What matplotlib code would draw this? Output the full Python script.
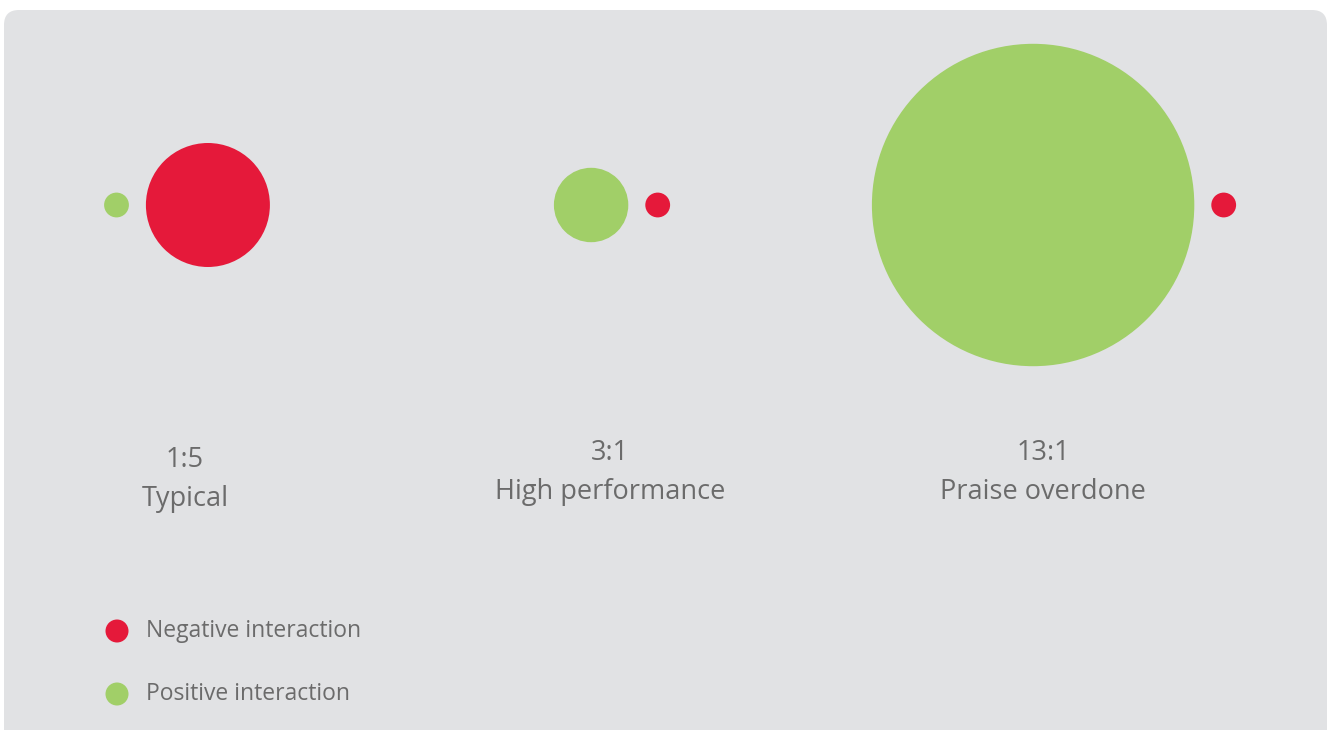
import matplotlib
matplotlib.use("Agg")
import matplotlib.pyplot as plt
from matplotlib.patches import Circle, FancyBboxPatch

# ---- data ----
ratios = ["1:5", "3:1", "13:1"]
names = ["Typical", "High performance", "Praise overdone"]
positive = [1, 3, 13]
negative = [5, 1, 1]
legend_labels = ["Negative interaction", "Positive interaction"]

# ---- style ----
RED = "#E5193A"
GREEN = "#A1CF68"
BG = "#E1E2E4"
TXT = "#6B6B6B"
FONT = "Open Sans"

W, H = 1330, 730
fig = plt.figure(figsize=(W / 100, H / 100), dpi=100)
fig.patch.set_facecolor("white")
ax = fig.add_axes([0, 0, 1, 1])
ax.set_xlim(0, W)
ax.set_ylim(H, 0)
ax.set_aspect("equal")
ax.axis("off")

ax.add_patch(FancyBboxPatch((4, 10), 1323, 760,
                            boxstyle="round,pad=0,rounding_size=15",
                            facecolor=BG, edgecolor="none"))

scale = 12.4      # px of radius per unit
gap = 17
cy = 205
group_cx = [187, 612, 1054]
label_cx = [185, 610, 1043]
ratio_base = [467, 460, 460]
name_base = [506, 499, 499]

for i in range(len(ratios)):
    rp = positive[i] * scale
    rn = negative[i] * scale
    total = 2 * rp + gap + 2 * rn
    left = group_cx[i] - total / 2
    ax.add_patch(Circle((left + rp, cy), rp, facecolor=GREEN, edgecolor="none"))
    ax.add_patch(Circle((left + 2 * rp + gap + rn, cy), rn, facecolor=RED, edgecolor="none"))
    ax.text(label_cx[i], ratio_base[i], ratios[i], ha="center", va="baseline",
            fontsize=19.5, color=TXT, family=FONT)
    ax.text(label_cx[i], name_base[i], names[i], ha="center", va="baseline",
            fontsize=19.5, color=TXT, family=FONT)

legend_colors = [RED, GREEN]
legend_y = [631, 694]
for lab, col, y in zip(legend_labels, legend_colors, legend_y):
    ax.add_patch(Circle((117, y), 11.5, facecolor=col, edgecolor="none"))
    ax.text(146, y, lab, ha="left", va="center", fontsize=16.5, color=TXT, family=FONT)

fig.savefig("out.png", dpi=100, facecolor="white")
